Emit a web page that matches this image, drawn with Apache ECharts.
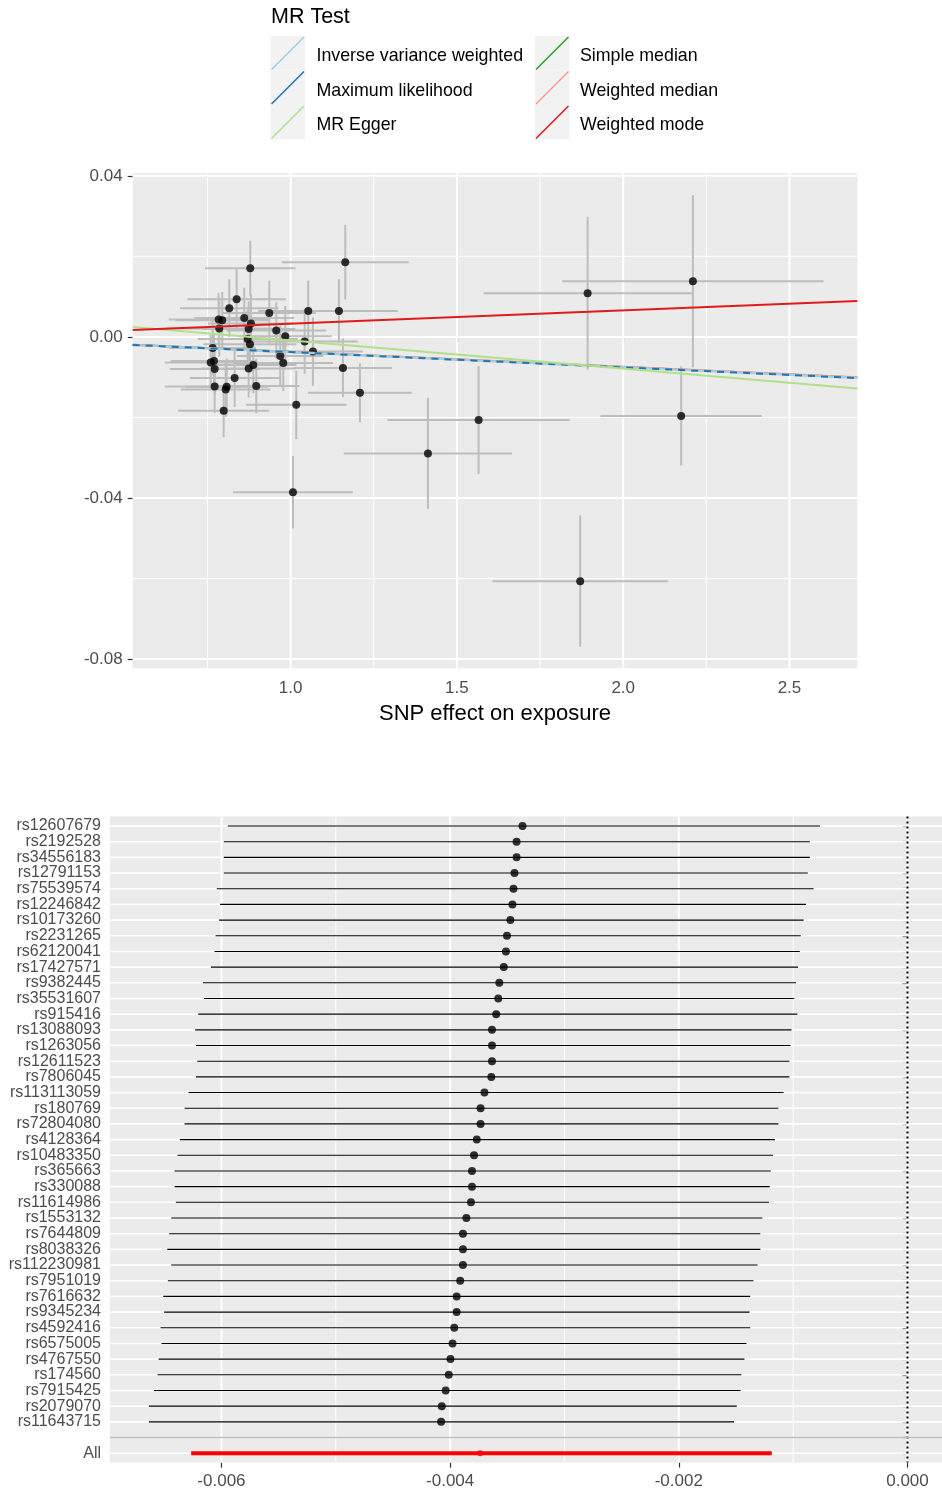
<!DOCTYPE html>
<html><head><meta charset="utf-8">
<script src="https://cdn.jsdelivr.net/npm/echarts@6/dist/echarts.min.js"></script>
<style>html,body{margin:0;padding:0;background:#fff}#c{width:942px;height:1494px}</style>
</head><body><div id="c"></div>
<script>
// ---------------- data ----------------
const methods = ['Inverse variance weighted','Maximum likelihood','MR Egger','Simple median','Weighted median','Weighted mode'];
const methodColors = ['#a6cee3','#1f78b4','#b2df8a','#33a02c','#fb9a99','#e31a1c'];
const methodSlopes = [-0.00378, -0.00378, -0.00703, -0.00372, -0.0037, 0.0033];
const methodIntercepts = [0, 0, 0.00617, 0, 0, 0];

const snpX = [0.8785,1.1642,0.8376,0.8154,0.9357,1.0529,1.1452,0.8605,0.7835,0.7943,0.7853,0.8806,0.8737,0.9567,0.9838,0.8707,0.8776,0.7655,1.0421,1.0670,0.9687,0.9778,0.7595,0.7694,0.7715,0.8737,0.8876,0.8316,1.1572,0.7715,0.8046,0.8076,0.8966,1.2084,1.0168,0.7986,1.4128,1.5652,1.8930,2.2096,2.1744,1.8707,1.0069];
const snpY = [0.01706,0.01855,0.00936,0.00713,0.00596,0.00646,0.00646,0.00472,0.00432,0.00415,0.00209,0.00333,0.00199,0.00159,0.00017,-0.0005,-0.00181,-0.00273,-0.00114,-0.00363,-0.00472,-0.00646,-0.00636,-0.00596,-0.00795,-0.00785,-0.00695,-0.01018,-0.0077,-0.01232,-0.01306,-0.01241,-0.01217,-0.0139,-0.01688,-0.01837,-0.02895,-0.02061,0.01085,0.01383,-0.01962,-0.06066,-0.03856];
const snpXse = [0.136,0.191,0.148,0.148,0.14,0.15,0.177,0.15,0.15,0.14,0.16,0.13,0.14,0.15,0.14,0.15,0.14,0.13,0.16,0.15,0.13,0.15,0.138,0.13,0.135,0.14,0.13,0.135,0.147,0.15,0.135,0.125,0.13,0.156,0.151,0.137,0.253,0.274,0.313,0.393,0.243,0.264,0.18];
const snpYse = [0.0068,0.0093,0.0075,0.0072,0.008,0.0075,0.0079,0.0075,0.0065,0.007,0.007,0.0072,0.0068,0.007,0.0075,0.0072,0.007,0.0068,0.008,0.0085,0.0075,0.007,0.0068,0.0066,0.0065,0.0072,0.007,0.0072,0.0073,0.0066,0.0068,0.007,0.0068,0.0073,0.0085,0.0065,0.0138,0.0134,0.019,0.0214,0.0123,0.0163,0.009];

const scatterXTicks = [1.0, 1.5, 2.0, 2.5];
const scatterXMinor = [0.75, 1.25, 1.75, 2.25];
const scatterYTicks = [0.04, 0, -0.04, -0.08];
const scatterYMinor = [0.02, -0.02, -0.06];

const looSnps = ['rs12607679','rs2192528','rs34556183','rs12791153','rs75539574','rs12246842','rs10173260','rs2231265','rs62120041','rs17427571','rs9382445','rs35531607','rs915416','rs13088093','rs1263056','rs12611523','rs7806045','rs113113059','rs180769','rs72804080','rs4128364','rs10483350','rs365663','rs330088','rs11614986','rs1553132','rs7644809','rs8038326','rs112230981','rs7951019','rs7616632','rs9345234','rs4592416','rs6575005','rs4767550','rs174560','rs7915425','rs2079070','rs11643715'];
const looB = [-0.003367,-0.003419,-0.003419,-0.003437,-0.003446,-0.003455,-0.003473,-0.003503,-0.003512,-0.003531,-0.003570,-0.003579,-0.003597,-0.003634,-0.003634,-0.003634,-0.003640,-0.003700,-0.003734,-0.003734,-0.003767,-0.003791,-0.003809,-0.003809,-0.003818,-0.003858,-0.003888,-0.003888,-0.003888,-0.003912,-0.003943,-0.003943,-0.003964,-0.003979,-0.003997,-0.004012,-0.004039,-0.004073,-0.004079];
const looLo = [-0.005945,-0.005980,-0.005980,-0.005980,-0.006041,-0.006012,-0.006021,-0.006052,-0.006061,-0.006093,-0.006163,-0.006154,-0.006204,-0.006230,-0.006224,-0.006212,-0.006224,-0.006288,-0.006323,-0.006323,-0.006364,-0.006384,-0.006410,-0.006410,-0.006399,-0.006439,-0.006457,-0.006474,-0.006439,-0.006469,-0.006510,-0.006501,-0.006533,-0.006524,-0.006550,-0.006559,-0.006591,-0.006635,-0.006635];
const looUp = [-0.000766,-0.000854,-0.000854,-0.000872,-0.000821,-0.000887,-0.000908,-0.000933,-0.000942,-0.000957,-0.000975,-0.000990,-0.000963,-0.001014,-0.001023,-0.001033,-0.001033,-0.001084,-0.001129,-0.001129,-0.001160,-0.001175,-0.001196,-0.001205,-0.001211,-0.001269,-0.001287,-0.001287,-0.001311,-0.001347,-0.001375,-0.001381,-0.001375,-0.001408,-0.001426,-0.001453,-0.001460,-0.001493,-0.001517];
const allLabel = 'All';
const allB = -0.003737, allLo = -0.006265, allUp = -0.001187;
const forestXTicks = [-0.006, -0.004, -0.002, 0];
const forestXMinor = [-0.005, -0.003, -0.001];

// ---------------- layout ----------------
const FONT = '"Liberation Sans", Arial, sans-serif';
const SX = [0.525, 2.704], SY = [-0.0823, 0.0407];
const FX = [-0.006975, 0.000302], FY = [0.4, 41.6];
const rowNames = looSnps.concat(['', allLabel]);
const rowIdx = rowNames.map((_, i) => i + 1);
const blankRow = looSnps.length + 1, allRow = looSnps.length + 2;

function vLines(gi, vals, yMid, w, color) {
  return {type:'custom', xAxisIndex:gi, yAxisIndex:gi, silent:true, z:1,
    data: vals.map(v => [v, yMid]),
    renderItem: (p, api) => {
      const cs = p.coordSys; const x = api.coord([api.value(0), api.value(1)])[0];
      return {type:'line', shape:{x1:x, y1:cs.y, x2:x, y2:cs.y + cs.height}, style:{stroke:color, lineWidth:w}};
    }};
}
function hLines(gi, vals, xMid, w, color) {
  return {type:'custom', xAxisIndex:gi, yAxisIndex:gi, silent:true, z:1,
    data: vals.map(v => [xMid, v]),
    renderItem: (p, api) => {
      const cs = p.coordSys; const y = api.coord([api.value(0), api.value(1)])[1];
      return {type:'line', shape:{x1:cs.x, y1:y, x2:cs.x + cs.width, y2:y}, style:{stroke:color, lineWidth:w}};
    }};
}

const sxMid = (SX[0] + SX[1]) / 2, syMid = (SY[0] + SY[1]) / 2;
const fxMid = (FX[0] + FX[1]) / 2, fyMid = 20;

const series = [
  vLines(0, scatterXMinor, syMid, 1, '#ffffff'),
  hLines(0, scatterYMinor, sxMid, 1, '#ffffff'),
  vLines(0, scatterXTicks, syMid, 2, '#ffffff'),
  hLines(0, scatterYTicks, sxMid, 2, '#ffffff'),
  { // error bars
    type:'custom', xAxisIndex:0, yAxisIndex:0, z:3, silent:true,
    data: snpX.map((x, i) => [x, snpY[i], snpXse[i], snpYse[i]]),
    encode:{x:0, y:1},
    renderItem: (p, api) => {
      const x = api.value(0), y = api.value(1), xs = api.value(2), ys = api.value(3);
      const l = api.coord([x - xs, y]), r = api.coord([x + xs, y]);
      const t = api.coord([x, y + ys]), b = api.coord([x, y - ys]);
      const st = {stroke:'#bdbdbd', lineWidth:2};
      return {type:'group', children:[
        {type:'line', shape:{x1:l[0], y1:l[1], x2:r[0], y2:r[1]}, style:st},
        {type:'line', shape:{x1:t[0], y1:t[1], x2:b[0], y2:b[1]}, style:st}
      ]};
    }
  },
  {type:'scatter', xAxisIndex:0, yAxisIndex:0, z:4, symbolSize:8, itemStyle:{color:'#000'},
   data: snpX.map((x, i) => [x, snpY[i]])}
];
const lineOrder = [3, 4, 0, 1, 2, 5];
lineOrder.forEach(k => {
  series.push({type:'line', xAxisIndex:0, yAxisIndex:0, z:5, symbol:'none', silent:true,
    lineStyle:{color:methodColors[k], width:2, type: k === 1 ? [7, 6] : 'solid'},
    data: SX.map(x => [x, methodIntercepts[k] + methodSlopes[k] * x])});
});

// forest
series.push(
  vLines(1, forestXMinor, fyMid, 1, '#ffffff'),
  vLines(1, forestXTicks, fyMid, 2, '#ffffff'),
  hLines(1, rowIdx, fxMid, 1.6, '#ffffff'),
  {type:'line', xAxisIndex:1, yAxisIndex:1, z:2, symbol:'none', silent:true,
   lineStyle:{color:'#000', width:2, type:[2, 3]}, data: FY.map(y => [0, y])},
  {type:'custom', xAxisIndex:1, yAxisIndex:1, z:3, silent:true,
   data: looSnps.map((s, i) => [looLo[i], i + 1, looUp[i]]).concat([[allLo, allRow, allUp]]),
   encode:{x:[0, 2], y:1},
   renderItem: (p, api) => {
     const a = api.coord([api.value(0), api.value(1)]), b = api.coord([api.value(2), api.value(1)]);
     const isAll = api.value(1) === allRow;
     return {type:'line', shape:{x1:a[0], y1:a[1], x2:b[0], y2:b[1]},
       style:{stroke: isAll ? '#ff0000' : '#000', lineWidth: isAll ? 4 : 1.1}};
   }},
  {type:'scatter', xAxisIndex:1, yAxisIndex:1, z:4, symbolSize:8, itemStyle:{color:'#000'},
   data: looB.map((b, i) => [b, i + 1])},
  {type:'scatter', xAxisIndex:1, yAxisIndex:1, z:4, symbolSize:6, itemStyle:{color:'#ff0000'},
   data: [[allB, allRow]]},
  hLines(1, [blankRow], fxMid, 1.7, '#bebebe')
);
series[series.length - 1].z = 5;

// legend graphics
const graphics = [{type:'text', left:271, top:6, style:{text:'MR Test', font:'21.5px ' + FONT, fill:'#000'}}];
methods.forEach((m, i) => {
  const col = Math.floor(i / 3), row = i % 3;
  const kx = 270.5 + col * 264.5, ky = 36 + row * 34.5, ks = 34.5;
  graphics.push({type:'rect', left:kx, top:ky, shape:{width:ks, height:ks}, style:{fill:'#f2f2f2'}});
  graphics.push({type:'line', shape:{x1:kx + 1, y1:ky + ks - 1, x2:kx + ks - 1, y2:ky + 1}, style:{stroke:methodColors[i], lineWidth:1.6}});
  graphics.push({type:'text', x:(col ? 580 : 316.5), y:ky + ks / 2 + 3, style:{text:m, font:'17.8px ' + FONT, fill:'#000', verticalAlign:'middle'}});
});

const tickStyle = {show:true, length:5, lineStyle:{color:'#333', width:1.2}};
const labelStyle = {color:'#4d4d4d', fontFamily:FONT, showMinLabel:true, showMaxLabel:true, hideOverlap:false};
// forest row labels: a blank placeholder at the axis start absorbs the min-label overlap check
const forestLabelValues = [FY[0]].concat(rowIdx);

const option = {
  animation:false,
  backgroundColor:'#ffffff',
  grid:[
    {left:132.7, right:84.7, top:173, height:495.3, show:true, backgroundColor:'#ebebeb', borderWidth:0},
    {left:110, right:0, top:816.6, height:646, show:true, backgroundColor:'#ebebeb', borderWidth:0}
  ],
  xAxis:[
    {type:'value', gridIndex:0, min:SX[0], max:SX[1], axisLine:{show:false}, splitLine:{show:false},
     axisTick:Object.assign({customValues:scatterXTicks}, tickStyle),
     axisLabel:Object.assign({customValues:scatterXTicks, fontSize:17, margin:12, formatter:v => v.toFixed(1)}, labelStyle),
     name:'SNP effect on exposure', nameLocation:'middle', nameGap:35,
     nameTextStyle:{fontSize:22, color:'#000', fontFamily:FONT}},
    {type:'value', gridIndex:1, min:FX[0], max:FX[1], axisLine:{show:false}, splitLine:{show:false},
     axisTick:Object.assign({customValues:forestXTicks}, tickStyle),
     axisLabel:Object.assign({customValues:forestXTicks, fontSize:17, margin:10, formatter:v => v.toFixed(3)}, labelStyle)}
  ],
  yAxis:[
    {type:'value', gridIndex:0, min:SY[0], max:SY[1], axisLine:{show:false}, splitLine:{show:false},
     axisTick:Object.assign({customValues:scatterYTicks}, tickStyle),
     axisLabel:Object.assign({customValues:scatterYTicks, fontSize:17, margin:10, formatter:v => v.toFixed(2)}, labelStyle)},
    {type:'value', gridIndex:1, min:FY[0], max:FY[1], inverse:true, axisLine:{show:false}, splitLine:{show:false},
     axisTick:Object.assign({customValues:rowIdx}, tickStyle),
     axisLabel:Object.assign({}, labelStyle, {customValues:forestLabelValues, showMinLabel:false, fontSize:16, lineHeight:13, margin:9,
       padding:[4, 0, 0, 0],
       formatter:v => (Math.abs(v - Math.round(v)) > 0.01 ? ' ' : rowNames[Math.round(v) - 1])})}
  ],
  graphic:graphics,
  series:series
};
const chart = echarts.init(document.getElementById('c'), null, {renderer:'canvas'});
chart.setOption(option);
</script></body></html>
